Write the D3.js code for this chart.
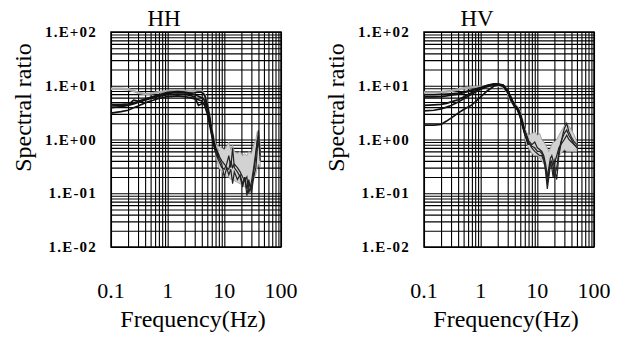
<!DOCTYPE html>
<html>
<head>
<meta charset="utf-8">
<script src="https://cdn.jsdelivr.net/npm/d3@7"></script>
<style>
  html, body { margin: 0; padding: 0; background: #fff; }
  svg { display: block; font-family: 'Liberation Serif', 'Times New Roman', serif; }
</style>
</head>
<body>
<svg id="chart" width="622" height="338"></svg>
<script>
// axis ticks
const xTickValues = [0.1, 1, 10, 100];
const xTickLabels = ['0.1', '1', '10', '100'];
const yTickValues = [100, 10, 1, 0.1, 0.01];
const yTickLabels = ['1.E+02', '1.E+01', '1.E+00', '1.E-01', '1.E-02'];

// HH: smooth part (0.1 - 8 Hz)
const hhLowFreq = [0.1, 0.15, 0.2, 0.25, 0.3, 0.4, 0.5, 0.7, 1, 1.5, 2, 2.5, 3, 3.5, 4, 4.5, 5, 5.5, 6, 6.5, 7, 8];
const hhLowCurves = [
  [3.1, 3.3, 3.5, 3.9, 4.2, 4.8, 5.2, 5.8, 6.3, 6.5, 6.3, 6.0, 5.7, 5.5, 5.2, 4.3, 3.0, 1.9, 1.2, 0.8, 0.6, 0.45],
  [4.2, 4.3, 4.4, 5.4, 5.2, 5.6, 6.0, 6.6, 7.2, 7.5, 7.4, 7.3, 7.4, 7.6, 7.6, 6.6, 4.6, 2.6, 1.5, 0.95, 0.7, 0.5],
  [3.9, 4.1, 4.3, 4.6, 4.9, 5.4, 5.8, 6.3, 6.8, 7.0, 6.9, 6.6, 6.2, 4.3, 4.6, 5.0, 3.8, 2.2, 1.3, 0.85, 0.62, 0.48],
  [4.5, 4.5, 4.6, 4.8, 5.0, 5.6, 6.1, 6.8, 7.5, 7.8, 7.6, 7.2, 6.8, 6.4, 6.0, 5.3, 4.0, 2.4, 1.4, 0.9, 0.65, 0.5]
];
const hhLowGray = [8.8, 8.8, 8.6, 8.0, 7.4, 7.0, 7.2, 7.6, 8.0, 8.2, 8.0, 7.8, 8.0, 8.2, 7.8, 6.8, 4.4, 2.6, 1.5, 1.0, 0.75, 0.6];

// HH: noisy part (7 - 43 Hz)
const hhHighFreq = [7, 8, 9, 10, 11, 12, 13, 14, 15, 17, 19, 21, 23, 25, 27, 30, 33, 36, 38, 40, 43];
const hhBandUpper = [0.8, 0.75, 0.7, 0.65, 0.75, 0.9, 0.65, 0.8, 0.6, 0.55, 0.6, 0.5, 0.55, 0.5, 0.6, 0.55, 0.8, 1.0, 1.4, 1.2, 0.9];
const hhBandLower = [0.5, 0.3, 0.25, 0.22, 0.2, 0.2, 0.18, 0.2, 0.17, 0.16, 0.15, 0.14, 0.13, 0.13, 0.14, 0.15, 0.18, 0.22, 0.3, 0.35, 0.3];
const hhHighCurves = [
  [0.6, 0.45, 0.35, 0.2, 0.3, 0.22, 0.28, 0.15, 0.25, 0.18, 0.22, 0.15, 0.2, 0.12, 0.18, 0.1, 0.2, 0.3, 0.6, 1.5, 0.5],
  [0.55, 0.4, 0.3, 0.28, 0.35, 0.5, 0.3, 0.7, 0.3, 0.25, 0.2, 0.13, 0.2, 0.09, 0.15, 0.12, 0.25, 0.5, 1.0, 0.8, 0.6],
  [0.62, 0.5, 0.4, 0.35, 0.3, 0.28, 0.4, 0.3, 0.35, 0.3, 0.25, 0.2, 0.17, 0.2, 0.1, 0.16, 0.3, 0.6, 0.9, 1.2, 0.4]
];

// HV: smooth part (0.1 - 7 Hz)
const hvLowFreq = [0.1, 0.15, 0.2, 0.25, 0.3, 0.4, 0.5, 0.7, 1, 1.3, 1.7, 2, 2.5, 3, 3.5, 4, 4.5, 5, 5.5, 6, 7];
const hvLowCurves = [
  [6.8, 6.8, 6.9, 7.0, 7.1, 7.3, 7.6, 8.3, 9.3, 10.0, 10.6, 10.7, 10.0, 7.8, 5.4, 4.3, 3.8, 3.0, 2.0, 1.4, 0.85],
  [6.2, 6.2, 6.3, 6.5, 6.7, 7.0, 7.4, 8.2, 9.2, 10.2, 10.8, 10.8, 10.3, 8.2, 5.8, 4.2, 3.6, 2.7, 1.8, 1.3, 0.8],
  [4.3, 4.4, 4.5, 4.7, 5.0, 5.5, 6.2, 7.5, 9.0, 10.0, 10.5, 10.6, 9.8, 7.5, 5.2, 4.0, 3.6, 2.8, 1.9, 1.35, 0.85],
  [3.4, 3.5, 3.7, 4.0, 4.3, 5.0, 5.7, 7.0, 8.6, 9.6, 10.3, 10.5, 10.0, 7.8, 5.5, 4.1, 3.5, 2.6, 1.8, 1.3, 0.8],
  [1.85, 1.85, 1.9, 2.2, 2.5, 3.1, 3.6, 4.4, 6.2, 8.0, 9.8, 10.4, 10.2, 8.0, 5.6, 4.3, 3.7, 2.9, 2.0, 1.4, 0.9]
];
const hvLowGray = [7.5, 7.5, 7.6, 7.8, 8.0, 8.5, 9.0, 9.4, 9.6, 9.8, 10.0, 10.2, 9.5, 7.5, 5.0, 4.5, 3.9, 3.1, 2.1, 1.5, 1.0];

// HV: noisy part (6 - 50 Hz)
const hvHighFreq = [6, 7, 8, 9, 10, 11, 12, 13, 14, 15, 16, 17, 18, 19, 20, 22, 24, 26, 28, 30, 33, 36, 40, 45, 50];
const hvBandUpper = [1.5, 1.2, 1.3, 1.4, 1.2, 1.3, 1.0, 0.9, 0.8, 0.7, 0.6, 0.7, 0.8, 0.9, 0.9, 1.0, 1.2, 1.4, 1.6, 1.8, 2.0, 1.8, 1.5, 1.2, 0.9];
const hvBandLower = [1.0, 0.7, 0.55, 0.5, 0.5, 0.45, 0.4, 0.35, 0.3, 0.25, 0.3, 0.35, 0.35, 0.4, 0.45, 0.45, 0.5, 0.55, 0.6, 0.65, 0.6, 0.6, 0.6, 0.6, 0.6];
const hvHighCurves = [
  [1.4, 0.9, 0.7, 0.6, 0.55, 0.5, 0.5, 0.4, 0.3, 0.15, 0.25, 0.4, 0.3, 0.2, 0.35, 0.5, 0.7, 0.8, 0.9, 1.0, 1.2, 1.0, 0.9, 0.8, 0.7],
  [1.3, 0.85, 0.75, 0.7, 0.6, 0.6, 0.55, 0.45, 0.25, 0.12, 0.2, 0.35, 0.4, 0.3, 0.2, 0.3, 0.6, 0.9, 1.1, 1.3, 1.5, 1.2, 1.0, 0.8, 0.75],
  [1.45, 0.95, 0.8, 0.9, 0.7, 0.65, 0.6, 0.5, 0.35, 0.2, 0.3, 0.45, 0.5, 0.4, 0.3, 0.18, 0.5, 0.8, 1.2, 1.6, 2.0, 1.4, 1.1, 0.9, 0.8]
];

const panels = [
  {title: 'HH', left: 111, lowFreq: hhLowFreq, lowCurves: hhLowCurves, lowGray: hhLowGray,
    highFreq: hhHighFreq, bandUpper: hhBandUpper, bandLower: hhBandLower, highCurves: hhHighCurves},
  {title: 'HV', left: 424, lowFreq: hvLowFreq, lowCurves: hvLowCurves, lowGray: hvLowGray,
    highFreq: hvHighFreq, bandUpper: hvBandUpper, bandLower: hvBandLower, highCurves: hvHighCurves}
];

const svg = d3.select('#chart');
const plotW = 170;
const plotH = 215;
const plotTop = 32;

// grid values 1..9 in each decade
function decadeValues(lo, hi) {
  const out = [];
  for (let p = lo; p < hi; p++) {
    for (let k = 1; k < 10; k++) out.push(k * Math.pow(10, p));
  }
  out.push(Math.pow(10, hi));
  return out;
}

panels.forEach(p => {
  const g = svg.append('g').attr('transform', `translate(${p.left},${plotTop})`);

  const x = d3.scaleLog().domain([0.1, 100]).range([0, plotW]);
  const y = d3.scaleLog().domain([0.01, 100]).range([plotH, 0]);

  // grid
  g.append('g')
    .call(d3.axisBottom(x).tickValues(decadeValues(-1, 2)).tickSize(plotH).tickFormat(''))
    .call(s => s.select('.domain').remove())
    .selectAll('line')
    .attr('stroke', '#000')
    .attr('stroke-width', 1.1);

  g.append('g')
    .call(d3.axisRight(y).tickValues(decadeValues(-2, 2)).tickSize(plotW).tickFormat(''))
    .call(s => s.select('.domain').remove())
    .selectAll('line')
    .attr('stroke', '#000')
    .attr('stroke-width', 1.1);

  // frame
  g.append('rect')
    .attr('width', plotW)
    .attr('height', plotH)
    .attr('fill', 'none')
    .attr('stroke', '#000')
    .attr('stroke-width', 1.5);

  const line = d3.line().x(d => x(d[0])).y(d => y(d[1]));

  // noisy band
  const band = p.highFreq.map((f, i) => [f, p.bandLower[i], p.bandUpper[i]]);
  g.append('path')
    .datum(band)
    .attr('fill', '#d2d2d2')
    .attr('stroke', '#999')
    .attr('stroke-width', 0.8)
    .attr('d', d3.area().x(d => x(d[0])).y0(d => y(d[1])).y1(d => y(d[2])));

  // gray record in smooth part
  g.append('path')
    .datum(p.lowFreq.map((f, i) => [f, p.lowGray[i]]))
    .attr('fill', 'none')
    .attr('stroke', '#aaa')
    .attr('stroke-width', 2.5)
    .attr('d', line);

  // smooth curves
  p.lowCurves.forEach(c => {
    g.append('path')
      .datum(p.lowFreq.map((f, i) => [f, c[i]]))
      .attr('fill', 'none')
      .attr('stroke', '#111')
      .attr('stroke-width', 1.7)
      .attr('d', line);
  });

  // jagged curves in noisy part
  p.highCurves.forEach(c => {
    g.append('path')
      .datum(p.highFreq.map((f, i) => [f, c[i]]))
      .attr('fill', 'none')
      .attr('stroke', '#222')
      .attr('stroke-width', 1.2)
      .attr('d', line);
  });

  // y tick labels
  g.selectAll('.ylab')
    .data(yTickValues)
    .join('text')
    .attr('x', -14)
    .attr('y', d => y(d) + 5)
    .attr('text-anchor', 'end')
    .attr('font-size', 15)
    .attr('font-weight', 'bold')
    .attr('letter-spacing', 1.2)
    .text((d, i) => yTickLabels[i]);

  // x tick labels
  g.selectAll('.xlab')
    .data(xTickValues)
    .join('text')
    .attr('x', d => x(d))
    .attr('y', 298 - plotTop)
    .attr('text-anchor', 'middle')
    .attr('font-size', 22)
    .text((d, i) => xTickLabels[i]);

  // title
  g.append('text')
    .attr('x', plotW / 2 - 32)
    .attr('y', 26 - plotTop)
    .attr('text-anchor', 'middle')
    .attr('font-size', 23)
    .text(p.title);

  // axis titles
  g.append('text')
    .attr('x', plotW / 2 - 3)
    .attr('y', 327 - plotTop)
    .attr('text-anchor', 'middle')
    .attr('font-size', 24)
    .text('Frequency(Hz)');

  g.append('text')
    .attr('transform', `translate(${-80},${plotH / 2 - 32}) rotate(-90)`)
    .attr('text-anchor', 'middle')
    .attr('font-size', 24)
    .text('Spectral ratio');
});
</script>
</body>
</html>
